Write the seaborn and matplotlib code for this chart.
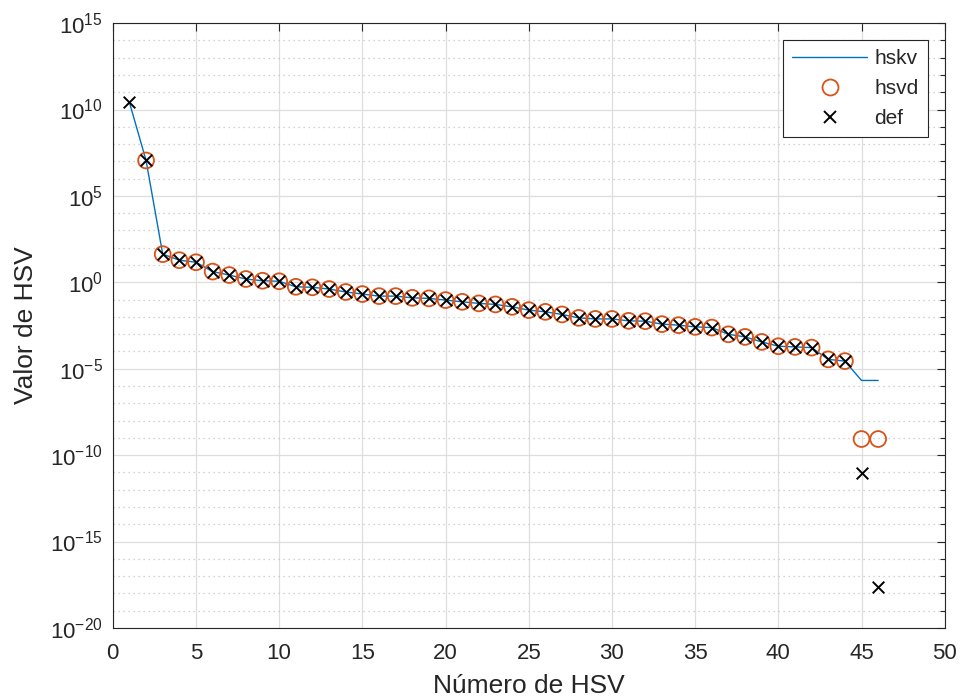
import numpy as np
import pandas as pd
import matplotlib
matplotlib.use("Agg")
import matplotlib.pyplot as plt
import seaborn as sns
from matplotlib.ticker import FixedLocator, LogFormatterSciNotation, NullFormatter
from matplotlib.lines import Line2D

# ---- data (log10 of the values) ----
idx = list(range(1, 47))
log_hskv = [10.41, 7.05, 1.63, 1.28, 1.16, 0.62, 0.42, 0.19, 0.09, 0.06,
            -0.26, -0.29, -0.39, -0.56, -0.68, -0.80, -0.80, -0.90, -0.93, -1.03,
            -1.13, -1.22, -1.28, -1.42, -1.61, -1.71, -1.86, -2.06, -2.12, -2.12,
            -2.23, -2.25, -2.42, -2.48, -2.58, -2.62, -3.01, -3.16, -3.45, -3.70,
            -3.74, -3.78, -4.46, -4.56, -5.68, -5.68]
log_hsvd = [np.nan] + log_hskv[1:44] + [-9.07, -9.07]
log_def = log_hskv[:44] + [-11.05, -17.64]

hskv = [10.0 ** v for v in log_hskv]
hsvd = [10.0 ** v if not np.isnan(v) else np.nan for v in log_hsvd]
defv = [10.0 ** v for v in log_def]

df = pd.DataFrame({"n": idx, "hskv": hskv, "hsvd": hsvd, "def": defv})

sns.set_theme(style="white")
plt.rcParams["font.family"] = ["Liberation Sans", "DejaVu Sans"]
plt.rcParams["mathtext.fontset"] = "custom"
plt.rcParams["mathtext.rm"] = "Liberation Sans"
plt.rcParams["mathtext.it"] = "Liberation Sans:italic"
plt.rcParams["mathtext.bf"] = "Liberation Sans:bold"

fig = plt.figure(figsize=(9.64, 7.00), dpi=100)
ax = fig.add_axes([0.117, 0.103, 0.863, 0.864])

blue = "#0072BD"
orange = "#D95319"
txt = "#262626"

sns.lineplot(data=df, x="n", y="hskv", ax=ax, color=blue, lw=1.0, zorder=3)
sns.scatterplot(data=df, x="n", y="hsvd", ax=ax, marker="o", s=130,
                facecolors="none", edgecolor=orange, linewidth=1.3, zorder=4)
sns.scatterplot(data=df, x="n", y="def", ax=ax, marker="x", s=70,
                color="black", linewidth=1.4, zorder=5)

ax.set_yscale("log")
ax.set_xlim(0, 50)
ax.set_ylim(1e-20, 1e15)
ax.set_xticks(range(0, 51, 5))
ax.yaxis.set_major_locator(FixedLocator([10.0 ** k for k in range(-20, 16, 5)]))
ax.yaxis.set_minor_locator(FixedLocator([10.0 ** k for k in range(-20, 16) if k % 5 != 0]))
ax.yaxis.set_major_formatter(LogFormatterSciNotation())
ax.yaxis.set_minor_formatter(NullFormatter())

ax.grid(True, which="major", color="#dedede", lw=0.9, ls="-")
ax.grid(True, which="minor", axis="y", color="#c4c4c4", lw=0.9, ls=(0, (1, 3)))
ax.set_axisbelow(True)

ax.tick_params(axis="both", which="both", direction="in", top=True, right=True,
               labelsize=16, colors=txt, labelcolor=txt)
ax.tick_params(which="major", length=6, width=0.8)
ax.tick_params(which="minor", length=3.3, width=0.8)
ax.tick_params(axis="x", which="major", pad=11)
ax.tick_params(axis="y", which="major", pad=7)
for sp in ax.spines.values():
    sp.set_color(txt)
    sp.set_linewidth(0.8)

ax.set_xlabel("Número de HSV", fontsize=19, color=txt, labelpad=7)
ax.set_ylabel("Valor de HSV", fontsize=19, color=txt, labelpad=9)

handles = [
    Line2D([], [], color=blue, lw=1.0),
    Line2D([], [], marker="o", ls="", markersize=11.5, markerfacecolor="none",
           markeredgecolor=orange, markeredgewidth=1.3),
    Line2D([], [], marker="x", ls="", markersize=8, color="black", markeredgewidth=1.4),
]
leg = ax.legend(handles, ["hskv", "hsvd", "def"], loc="upper right",
                fontsize=15, handlelength=3.6, frameon=True, fancybox=False,
                borderaxespad=0.8, labelspacing=0.52, handletextpad=0.35,
                borderpad=0.45)
leg.get_frame().set_edgecolor(txt)
leg.get_frame().set_linewidth(0.8)
leg.get_frame().set_alpha(1)

fig.savefig("out.png", dpi=100)
